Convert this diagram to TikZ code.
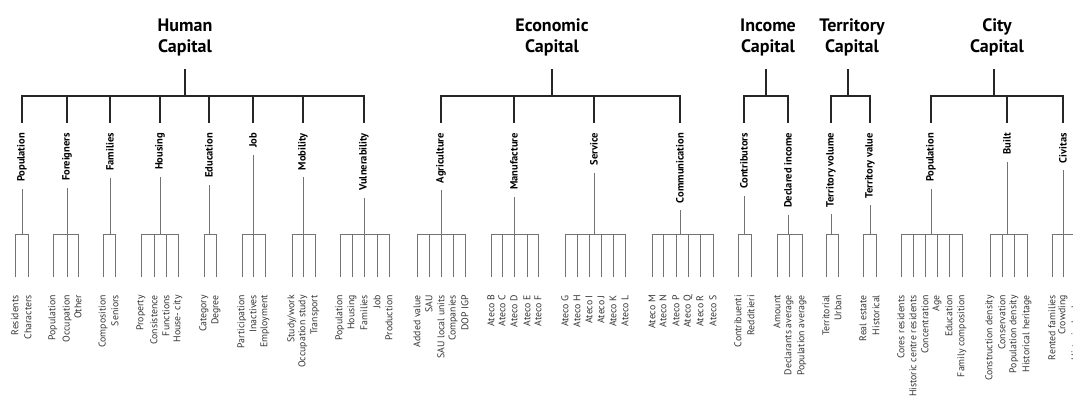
\documentclass[tikz,border=0pt]{standalone}
\usepackage{fontspec}
\setmainfont{PT Sans}
\begin{document}
\begin{tikzpicture}[x=1pt, y=-1pt,
    capital/.style={font=\fontsize{18}{21}\selectfont\bfseries, align=center, inner sep=0pt},
    topic/.style={rotate=90, anchor=east, inner sep=0pt, font=\fontsize{10.5}{12}\selectfont\bfseries},
    leaf/.style={rotate=90, anchor=east, inner sep=0pt, text=black!80, font=\fontsize{9.8}{11}\selectfont},
    trunk/.style={line width=1.3pt, draw=black!85},
    branch/.style={trunk, shorten >=10pt},
    stem/.style={line width=0.8pt, draw=black!55, shorten <=7pt},
    twig/.style={line width=0.8pt, draw=black!55, shorten >=18pt}
]
    \useasboundingbox (0,0) rectangle (1073,399);

    % Capitals
    \node[capital] (hc) at (185,37) {Human\\Capital};
    \node[capital] (ec) at (552,37) {Economic\\Capital};
    \node[capital] (ic) at (768,37) {Income\\Capital};
    \node[capital] (tc) at (852,37) {Territory\\Capital};
    \node[capital] (cc) at (997,37) {City\\Capital};
    \coordinate (hc-bar) at (185,96);
    \coordinate (ec-bar) at (552,96);
    \coordinate (ic-bar) at (766,96);
    \coordinate (tc-bar) at (848,96);
    \coordinate (cc-bar) at (994,96);
    \draw[trunk, shorten <=13pt] (hc.south -| hc-bar) -- (hc-bar);
    \draw[trunk, shorten <=13pt] (ec.south -| ec-bar) -- (ec-bar);
    \draw[trunk, shorten <=13pt] (ic.south -| ic-bar) -- (ic-bar);
    \draw[trunk, shorten <=13pt] (tc.south -| tc-bar) -- (tc-bar);
    \draw[trunk, shorten <=13pt] (cc.south -| cc-bar) -- (cc-bar);

    % Topics of Human Capital
    \node[topic] (hc-pop) at (22,133) {Population};
    \node[topic] (hc-for) at (67,133) {Foreigners};
    \node[topic] (hc-fam) at (110,133) {Families};
    \node[topic] (hc-hou) at (160,133) {Housing};
    \node[topic] (hc-edu) at (209,133) {Education};
    \node[topic] (hc-job) at (253,133) {Job};
    \node[topic] (hc-mob) at (303,133) {Mobility};
    \node[topic] (hc-vul) at (364,133) {Vulnerability};
    \draw[branch] (hc-bar) -| (hc-pop.east);
    \draw[branch] (hc-bar) -| (hc-for.east);
    \draw[branch] (hc-bar) -| (hc-fam.east);
    \draw[branch] (hc-bar) -| (hc-hou.east);
    \draw[branch] (hc-bar) -| (hc-edu.east);
    \draw[branch] (hc-bar) -| (hc-job.east);
    \draw[branch] (hc-bar) -| (hc-mob.east);
    \draw[branch] (hc-bar) -| (hc-vul.east);

    % Topics of Economic Capital
    \node[topic] (ec-agr) at (441,133) {Agriculture};
    \node[topic] (ec-man) at (514,133) {Manufacture};
    \node[topic] (ec-ser) at (594,133) {Service};
    \node[topic] (ec-com) at (680,133) {Communication};
    \draw[branch] (ec-bar) -| (ec-agr.east);
    \draw[branch] (ec-bar) -| (ec-man.east);
    \draw[branch] (ec-bar) -| (ec-ser.east);
    \draw[branch] (ec-bar) -| (ec-com.east);

    % Topics of Income and Territory Capital
    \node[topic] (ic-con) at (744,133) {Contributors};
    \node[topic] (ic-dec) at (788,133) {Declared income};
    \node[topic] (tc-vol) at (831,133) {Territory volume};
    \node[topic] (tc-val) at (870,133) {Territory value};
    \draw[branch] (ic-bar) -| (ic-con.east);
    \draw[branch] (ic-bar) -| (ic-dec.east);
    \draw[branch] (tc-bar) -| (tc-vol.east);
    \draw[branch] (tc-bar) -| (tc-val.east);

    % Topics of City Capital
    \node[topic] (cc-pop) at (931,133) {Population};
    \node[topic] (cc-bui) at (1007,133) {Built};
    \node[topic] (cc-civ) at (1063,133) {Civitas};
    \draw[branch] (cc-bar) -| (cc-pop.east);
    \draw[branch] (cc-bar) -| (cc-bui.east);
    \draw[branch] (cc-bar) -| (cc-civ.east);

    % Sub bars
    \coordinate (hc-pop-bar) at (22,234);
    \coordinate (hc-for-bar) at (67,234);
    \coordinate (hc-fam-bar) at (110,234);
    \coordinate (hc-hou-bar) at (160,234);
    \coordinate (hc-edu-bar) at (209,234);
    \coordinate (hc-job-bar) at (253,234);
    \coordinate (hc-mob-bar) at (303,234);
    \coordinate (hc-vul-bar) at (364,234);
    \coordinate (ec-agr-bar) at (441,234);
    \coordinate (ec-man-bar) at (514,234);
    \coordinate (ec-ser-bar) at (594,234);
    \coordinate (ec-com-bar) at (680,234);
    \coordinate (ic-con-bar) at (744,234);
    \coordinate (ic-dec-bar) at (788,234);
    \coordinate (tc-vol-bar) at (831,234);
    \coordinate (tc-val-bar) at (870,234);
    \coordinate (cc-pop-bar) at (931,234);
    \coordinate (cc-bui-bar) at (1007,234);
    \coordinate (cc-civ-bar) at (1063,234);
    \draw[stem] (hc-pop.west) -- (hc-pop-bar);
    \draw[stem] (hc-for.west) -- (hc-for-bar);
    \draw[stem] (hc-fam.west) -- (hc-fam-bar);
    \draw[stem] (hc-hou.west) -- (hc-hou-bar);
    \draw[stem] (hc-edu.west) -- (hc-edu-bar);
    \draw[stem] (hc-job.west) -- (hc-job-bar);
    \draw[stem] (hc-mob.west) -- (hc-mob-bar);
    \draw[stem] (hc-vul.west) -- (hc-vul-bar);
    \draw[stem] (ec-agr.west) -- (ec-agr-bar);
    \draw[stem] (ec-man.west) -- (ec-man-bar);
    \draw[stem] (ec-ser.west) -- (ec-ser-bar);
    \draw[stem] (ec-com.west) -- (ec-com-bar);
    \draw[stem] (ic-con.west) -- (ic-con-bar);
    \draw[stem] (ic-dec.west) -- (ic-dec-bar);
    \draw[stem] (tc-vol.west) -- (tc-vol-bar);
    \draw[stem] (tc-val.west) -- (tc-val-bar);
    \draw[stem] (cc-pop.west) -- (cc-pop-bar);
    \draw[stem] (cc-bui.west) -- (cc-bui-bar);
    \draw[stem] (cc-civ.west) -- (cc-civ-bar);

    % Leaves of Human Capital
    \node[leaf] (hc-pop-1) at (15,295) {Residents};
    \node[leaf] (hc-pop-2) at (28,295) {Characters};
    \node[leaf] (hc-for-1) at (53,295) {Population};
    \node[leaf] (hc-for-2) at (67,295) {Occupation};
    \node[leaf] (hc-for-3) at (78,295) {Other};
    \node[leaf] (hc-fam-1) at (103,295) {Composition};
    \node[leaf] (hc-fam-2) at (115,295) {Seniors};
    \node[leaf] (hc-hou-1) at (141,295) {Property};
    \node[leaf] (hc-hou-2) at (154,295) {Consistence};
    \node[leaf] (hc-hou-3) at (166,295) {Functions};
    \node[leaf] (hc-hou-4) at (178,295) {House- city};
    \node[leaf] (hc-edu-1) at (204,295) {Category};
    \node[leaf] (hc-edu-2) at (216,295) {Degree};
    \node[leaf] (hc-job-1) at (242,295) {Participation};
    \node[leaf] (hc-job-2) at (253,295) {Inactives};
    \node[leaf] (hc-job-3) at (265,295) {Employment};
    \node[leaf] (hc-mob-1) at (292,295) {Study/work};
    \node[leaf] (hc-mob-2) at (303,295) {Occupation study};
    \node[leaf] (hc-mob-3) at (315,295) {Transport};
    \node[leaf] (hc-vul-1) at (340,295) {Population};
    \node[leaf] (hc-vul-2) at (352,295) {Housing};
    \node[leaf] (hc-vul-3) at (364,295) {Families};
    \node[leaf] (hc-vul-4) at (377,295) {Job};
    \node[leaf] (hc-vul-5) at (389,295) {Production};
    \draw[twig] (hc-pop-bar) -| (hc-pop-1.east);
    \draw[twig] (hc-pop-bar) -| (hc-pop-2.east);
    \draw[twig] (hc-for-bar) -| (hc-for-1.east);
    \draw[twig] (hc-for-bar) -| (hc-for-2.east);
    \draw[twig] (hc-for-bar) -| (hc-for-3.east);
    \draw[twig] (hc-fam-bar) -| (hc-fam-1.east);
    \draw[twig] (hc-fam-bar) -| (hc-fam-2.east);
    \draw[twig] (hc-hou-bar) -| (hc-hou-1.east);
    \draw[twig] (hc-hou-bar) -| (hc-hou-2.east);
    \draw[twig] (hc-hou-bar) -| (hc-hou-3.east);
    \draw[twig] (hc-hou-bar) -| (hc-hou-4.east);
    \draw[twig] (hc-edu-bar) -| (hc-edu-1.east);
    \draw[twig] (hc-edu-bar) -| (hc-edu-2.east);
    \draw[twig] (hc-job-bar) -| (hc-job-1.east);
    \draw[twig] (hc-job-bar) -| (hc-job-2.east);
    \draw[twig] (hc-job-bar) -| (hc-job-3.east);
    \draw[twig] (hc-mob-bar) -| (hc-mob-1.east);
    \draw[twig] (hc-mob-bar) -| (hc-mob-2.east);
    \draw[twig] (hc-mob-bar) -| (hc-mob-3.east);
    \draw[twig] (hc-vul-bar) -| (hc-vul-1.east);
    \draw[twig] (hc-vul-bar) -| (hc-vul-2.east);
    \draw[twig] (hc-vul-bar) -| (hc-vul-3.east);
    \draw[twig] (hc-vul-bar) -| (hc-vul-4.east);
    \draw[twig] (hc-vul-bar) -| (hc-vul-5.east);

    % Leaves of Economic Capital
    \node[leaf] (ec-agr-1) at (417,295) {Added value};
    \node[leaf] (ec-agr-2) at (429,295) {SAU};
    \node[leaf] (ec-agr-3) at (441,295) {SAU local units};
    \node[leaf] (ec-agr-4) at (453,295) {Companies};
    \node[leaf] (ec-agr-5) at (465,295) {DOP IGP};
    \node[leaf] (ec-man-1) at (491,295) {Ateco B};
    \node[leaf] (ec-man-2) at (502,295) {Ateco C};
    \node[leaf] (ec-man-3) at (514,295) {Ateco D};
    \node[leaf] (ec-man-4) at (527,295) {Ateco E};
    \node[leaf] (ec-man-5) at (538,295) {Ateco F};
    \node[leaf] (ec-ser-1) at (565,295) {Ateco G};
    \node[leaf] (ec-ser-2) at (577,295) {Ateco H};
    \node[leaf] (ec-ser-3) at (589,295) {Ateco I};
    \node[leaf] (ec-ser-4) at (601,295) {Ateco J};
    \node[leaf] (ec-ser-5) at (613,295) {Ateco K};
    \node[leaf] (ec-ser-6) at (625,295) {Ateco L};
    \node[leaf] (ec-com-1) at (652,295) {Ateco M};
    \node[leaf] (ec-com-2) at (663,295) {Ateco N};
    \node[leaf] (ec-com-3) at (676,295) {Ateco P};
    \node[leaf] (ec-com-4) at (688,295) {Ateco Q};
    \node[leaf] (ec-com-5) at (700,295) {Ateco R};
    \node[leaf] (ec-com-6) at (713,295) {Ateco S};
    \draw[twig] (ec-agr-bar) -| (ec-agr-1.east);
    \draw[twig] (ec-agr-bar) -| (ec-agr-2.east);
    \draw[twig] (ec-agr-bar) -| (ec-agr-3.east);
    \draw[twig] (ec-agr-bar) -| (ec-agr-4.east);
    \draw[twig] (ec-agr-bar) -| (ec-agr-5.east);
    \draw[twig] (ec-man-bar) -| (ec-man-1.east);
    \draw[twig] (ec-man-bar) -| (ec-man-2.east);
    \draw[twig] (ec-man-bar) -| (ec-man-3.east);
    \draw[twig] (ec-man-bar) -| (ec-man-4.east);
    \draw[twig] (ec-man-bar) -| (ec-man-5.east);
    \draw[twig] (ec-ser-bar) -| (ec-ser-1.east);
    \draw[twig] (ec-ser-bar) -| (ec-ser-2.east);
    \draw[twig] (ec-ser-bar) -| (ec-ser-3.east);
    \draw[twig] (ec-ser-bar) -| (ec-ser-4.east);
    \draw[twig] (ec-ser-bar) -| (ec-ser-5.east);
    \draw[twig] (ec-ser-bar) -| (ec-ser-6.east);
    \draw[twig] (ec-com-bar) -| (ec-com-1.east);
    \draw[twig] (ec-com-bar) -| (ec-com-2.east);
    \draw[twig] (ec-com-bar) -| (ec-com-3.east);
    \draw[twig] (ec-com-bar) -| (ec-com-4.east);
    \draw[twig] (ec-com-bar) -| (ec-com-5.east);
    \draw[twig] (ec-com-bar) -| (ec-com-6.east);

    % Leaves of Income and Territory Capital
    \node[leaf] (ic-con-1) at (738,295) {Contribuenti};
    \node[leaf] (ic-con-2) at (751,295) {Redditieri};
    \node[leaf] (ic-dec-1) at (777,295) {Amount};
    \node[leaf] (ic-dec-2) at (789,295) {Declarants average};
    \node[leaf] (ic-dec-3) at (802,295) {Population average};
    \node[leaf] (tc-vol-1) at (826,295) {Territorial};
    \node[leaf] (tc-vol-2) at (838,295) {Urban};
    \node[leaf] (tc-val-1) at (863,295) {Real estate};
    \node[leaf] (tc-val-2) at (876,295) {Historical};
    \draw[twig] (ic-con-bar) -| (ic-con-1.east);
    \draw[twig] (ic-con-bar) -| (ic-con-2.east);
    \draw[twig] (ic-dec-bar) -| (ic-dec-1.east);
    \draw[twig] (ic-dec-bar) -| (ic-dec-2.east);
    \draw[twig] (ic-dec-bar) -| (ic-dec-3.east);
    \draw[twig] (tc-vol-bar) -| (tc-vol-1.east);
    \draw[twig] (tc-vol-bar) -| (tc-vol-2.east);
    \draw[twig] (tc-val-bar) -| (tc-val-1.east);
    \draw[twig] (tc-val-bar) -| (tc-val-2.east);

    % Leaves of City Capital
    \node[leaf] (cc-pop-1) at (901,295) {Cores residents};
    \node[leaf] (cc-pop-2) at (913,295) {Historic centre residents};
    \node[leaf] (cc-pop-3) at (925,295) {Concentration};
    \node[leaf] (cc-pop-4) at (937,295) {Age};
    \node[leaf] (cc-pop-5) at (949,295) {Education};
    \node[leaf] (cc-pop-6) at (962,295) {Family composition};
    \node[leaf] (cc-bui-1) at (990,295) {Construction density};
    \node[leaf] (cc-bui-2) at (1002,295) {Conservation};
    \node[leaf] (cc-bui-3) at (1014,295) {Population density};
    \node[leaf] (cc-bui-4) at (1027,295) {Historical heritage};
    \node[leaf] (cc-civ-1) at (1052,295) {Rented families};
    \node[leaf] (cc-civ-2) at (1063,295) {Crowding};
    \node[leaf] (cc-civ-3) at (1075,295) {Historical value};
    \draw[twig] (cc-pop-bar) -| (cc-pop-1.east);
    \draw[twig] (cc-pop-bar) -| (cc-pop-2.east);
    \draw[twig] (cc-pop-bar) -| (cc-pop-3.east);
    \draw[twig] (cc-pop-bar) -| (cc-pop-4.east);
    \draw[twig] (cc-pop-bar) -| (cc-pop-5.east);
    \draw[twig] (cc-pop-bar) -| (cc-pop-6.east);
    \draw[twig] (cc-bui-bar) -| (cc-bui-1.east);
    \draw[twig] (cc-bui-bar) -| (cc-bui-2.east);
    \draw[twig] (cc-bui-bar) -| (cc-bui-3.east);
    \draw[twig] (cc-bui-bar) -| (cc-bui-4.east);
    \draw[twig] (cc-civ-bar) -| (cc-civ-1.east);
    \draw[twig] (cc-civ-bar) -| (cc-civ-2.east);
    \draw[twig] (cc-civ-bar) -| (cc-civ-3.east);
\end{tikzpicture}
\end{document}
